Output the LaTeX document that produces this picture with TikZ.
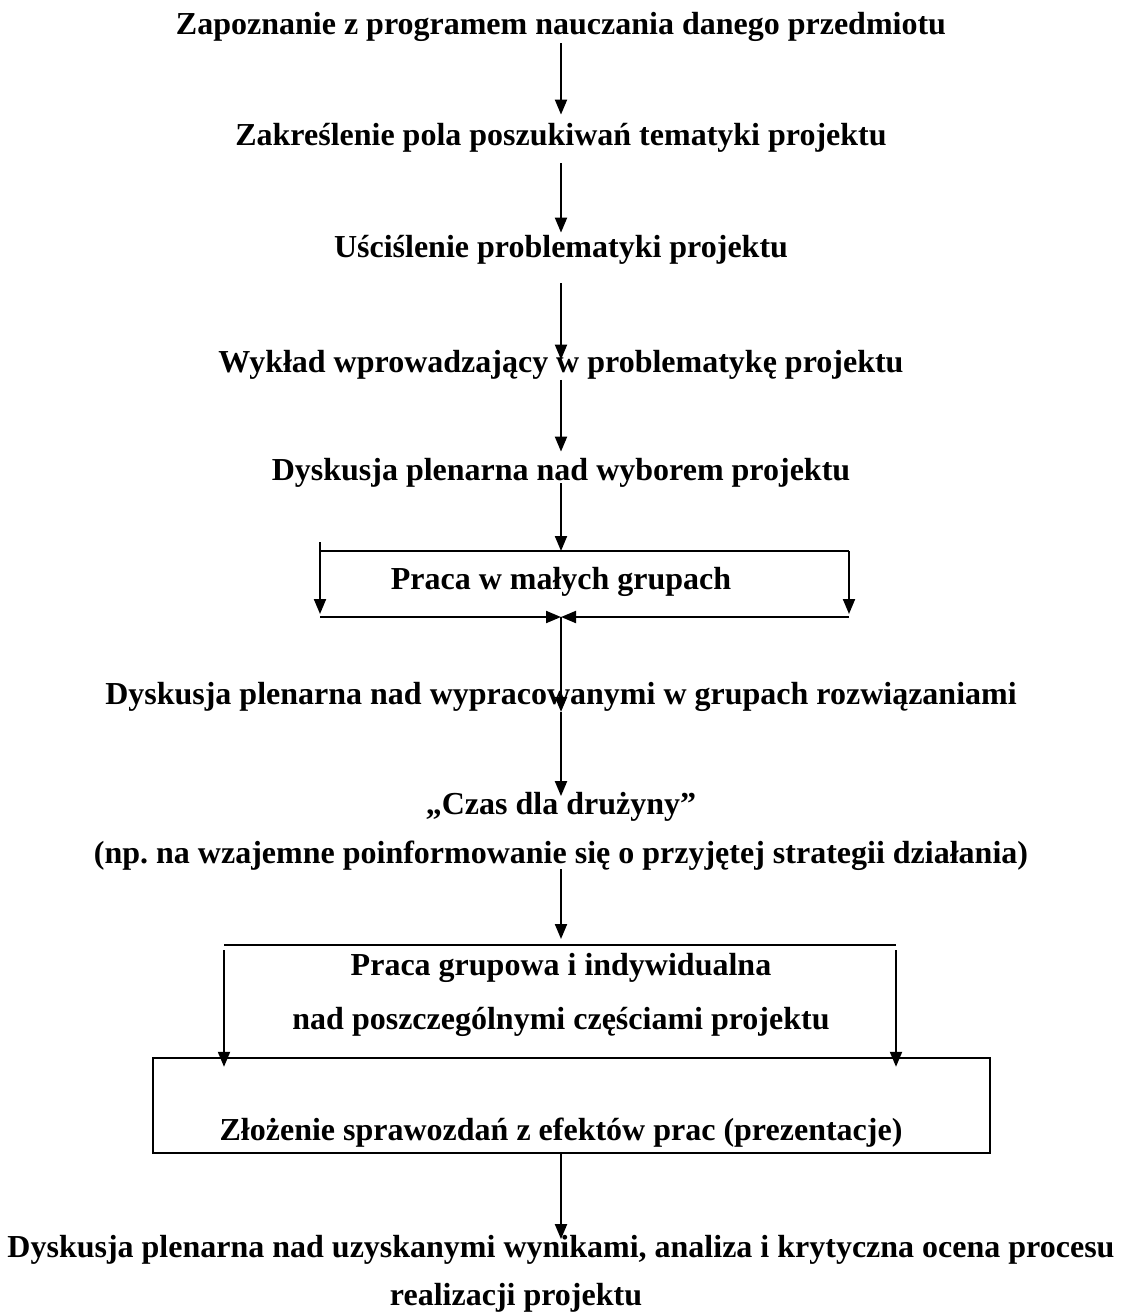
\documentclass[tikz,border=0pt]{standalone}
\usepackage{fontspec}
\setmainfont{Liberation Serif}
\usetikzlibrary{arrows.meta}
\frenchspacing

\begin{document}
\begin{tikzpicture}[
  x=0.5pt, y=-0.5pt,
  font=\fontsize{16}{19}\selectfont\bfseries,
  txt/.style={inner sep=0pt, text height=11pt, text depth=3.5pt},
  arr/.style={-{Triangle[length=7.5pt,width=6pt]}, line width=1pt},
  ln/.style={line width=1pt}
]
\useasboundingbox (0,0) rectangle (1120,1312);

% etapy pracy nad projektem
\node[txt] (zap) at (561,27) {Zapoznanie z programem nauczania danego przedmiotu};
\node[txt] (zak) at (561,138) {Zakreślenie pola poszukiwań tematyki projektu};
\node[txt] (usc) at (561,250) {Uściślenie problematyki projektu};
\node[txt] (wyk) at (561,365) {Wykład wprowadzający w problematykę projektu};
\node[txt] (wyb) at (561,473) {Dyskusja plenarna nad wyborem projektu};
\node[txt] (mal) at (561,582) {Praca w małych grupach};
\node[txt] (roz) at (561,697) {Dyskusja plenarna nad wypracowanymi w grupach rozwiązaniami};
\node[txt] (czas) at (561,807) {„Czas dla drużyny”};
\node[txt] (np) at (561,856) {(np.\ na wzajemne poinformowanie się o przyjętej strategii działania)};
\node[txt] (grp) at (561,968) {Praca grupowa i indywidualna};
\node[txt] (czesc) at (561,1022) {nad poszczególnymi częściami projektu};
\node[draw, line width=1.2pt, minimum width=418.5pt, minimum height=47.5pt] (ramka) at (571.5,1105.5) {};
\node[txt] (spr) at (561,1133) {Złożenie sprawozdań z efektów prac (prezentacje)};
\node[txt] (wyn) at (561,1250) {Dyskusja plenarna nad uzyskanymi wynikami, analiza i krytyczna ocena procesu};
\node[txt] (real) at (516,1298) {realizacji projektu};

% rogi ramek
\coordinate (m1) at (320,551);
\coordinate (m2) at (849,551);
\coordinate (m3) at (320,617);
\coordinate (m4) at (849,617);
\coordinate (msrod) at (561,617);
\coordinate (g1) at (224,945);
\coordinate (g2) at (896,945);

\draw[arr, shorten <=0.75pt, shorten >=4.25pt] (zap.south) -- (zak.north);
\draw[arr, shorten <=5.25pt, shorten >=1.25pt] (zak.south) -- (usc.north);
\draw[arr, shorten <=9.25pt, shorten >=-4.75pt] (usc.south) -- (wyk.north);
\draw[arr, shorten >=3.25pt] (wyk.south) -- (wyb.north);
\draw[arr, shorten <=-2.25pt] (wyb.south) -- (wyb.south |- m1);

% praca w malych grupach
\draw[ln] (m1) -- (m2);
\draw[arr] ([yshift=4.5pt]m1) -- ([yshift=1.5pt]m3);
\draw[arr] (m2) -- ([yshift=1.5pt]m4);
\draw[arr] (m3) -- (msrod);
\draw[arr] (m4) -- (msrod);
\draw[arr] (msrod) -- (roz.south);
\draw[arr, shorten >=-2pt] (roz.south) -- (czas.north);
\draw[arr, shorten <=-0.75pt, shorten >=3pt] (np.south) -- (np.south |- g1);

% praca grupowa
\draw[ln] (g1) -- (g2);
\draw[arr, shorten >=-5pt] ([yshift=-2.5pt]g1) -- (g1 |- ramka.north);
\draw[arr, shorten >=-5pt] ([yshift=-2.5pt]g2) -- (g2 |- ramka.north);
\draw[arr, shorten >=-2pt] (wyn |- ramka.south) -- (wyn.north);
\end{tikzpicture}
\end{document}
